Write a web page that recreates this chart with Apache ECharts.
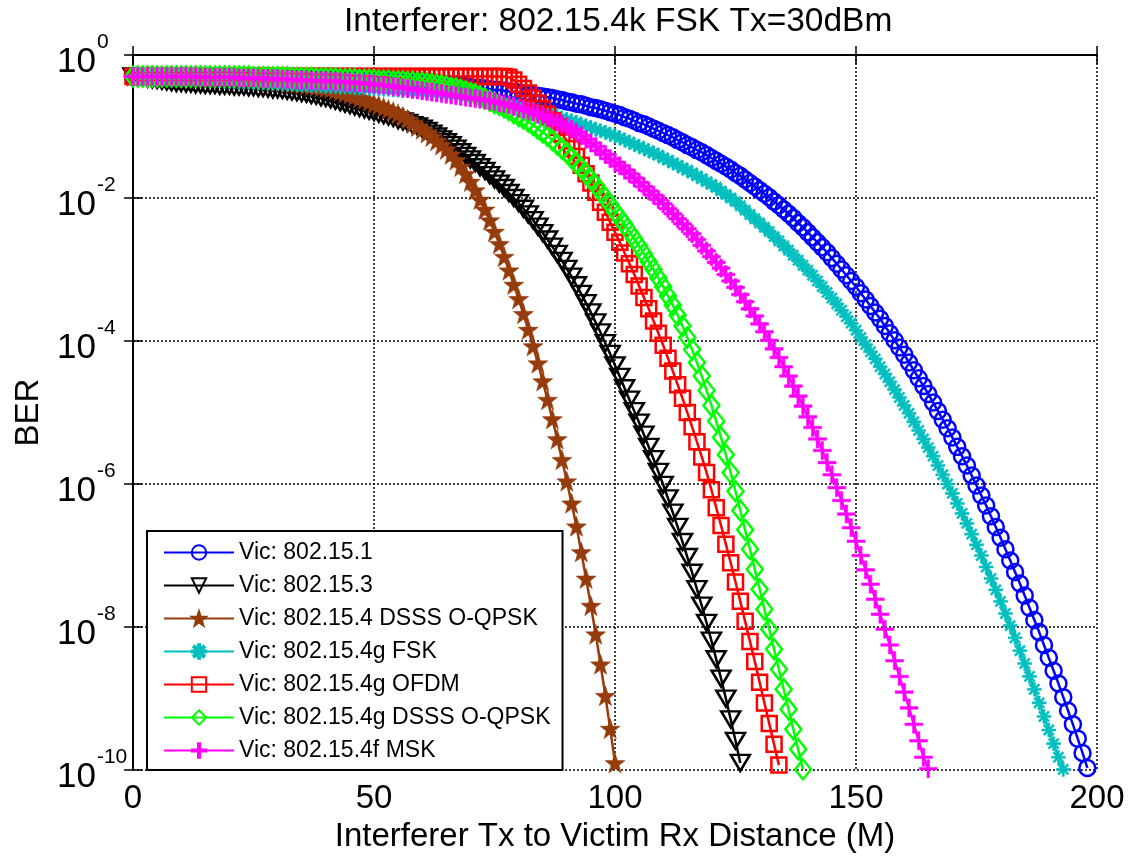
<!DOCTYPE html>
<html>
<head>
<meta charset="utf-8">
<script src="https://cdn.jsdelivr.net/npm/echarts@6.0.0/dist/echarts.min.js"></script>
<style>
  html, body { margin: 0; padding: 0; background: #fff; }
  #chart-container { width: 1135px; height: 858px; }
</style>
</head>
<body>
<div id="chart-container"></div>
<script>
// BER, stored as log10(BER), one value per metre starting at 0 m
var names = ['Vic: 802.15.1', 'Vic: 802.15.3', 'Vic: 802.15.4 DSSS O-QPSK', 'Vic: 802.15.4g FSK',
             'Vic: 802.15.4g OFDM', 'Vic: 802.15.4g DSSS O-QPSK', 'Vic: 802.15.4f MSK'];
var colors = ['#0000ff', '#000000', '#963c0c', '#00bfbf', '#ff0000', '#00ff00', '#ff00ff'];
var xTicks = [0, 50, 100, 150, 200];
var yTickExps = [0, -2, -4, -6, -8, -10];

var ber802151 = [
  -0.30,-0.30,-0.30,-0.30,-0.30,-0.30,-0.30,-0.30,-0.30,-0.30,
  -0.30,-0.30,-0.30,-0.30,-0.30,-0.30,-0.30,-0.30,-0.30,-0.30,
  -0.30,-0.30,-0.30,-0.30,-0.30,-0.31,-0.31,-0.31,-0.31,-0.31,
  -0.31,-0.31,-0.31,-0.31,-0.32,-0.32,-0.32,-0.32,-0.32,-0.33,
  -0.33,-0.33,-0.33,-0.33,-0.34,-0.34,-0.34,-0.35,-0.35,-0.35,
  -0.35,-0.36,-0.36,-0.36,-0.37,-0.37,-0.37,-0.38,-0.38,-0.39,
  -0.39,-0.40,-0.40,-0.41,-0.41,-0.42,-0.42,-0.43,-0.44,-0.44,
  -0.45,-0.46,-0.46,-0.47,-0.48,-0.49,-0.49,-0.50,-0.51,-0.52,
  -0.53,-0.54,-0.55,-0.56,-0.57,-0.58,-0.59,-0.60,-0.62,-0.63,
  -0.65,-0.66,-0.68,-0.69,-0.71,-0.73,-0.74,-0.76,-0.78,-0.80,
  -0.82,-0.84,-0.87,-0.89,-0.92,-0.95,-0.97,-1.00,-1.03,-1.06,
  -1.09,-1.12,-1.15,-1.19,-1.22,-1.26,-1.29,-1.33,-1.36,-1.40,
  -1.44,-1.48,-1.52,-1.56,-1.60,-1.65,-1.69,-1.74,-1.79,-1.84,
  -1.89,-1.94,-1.99,-2.05,-2.10,-2.16,-2.22,-2.28,-2.35,-2.41,
  -2.48,-2.55,-2.62,-2.69,-2.76,-2.84,-2.92,-3.00,-3.08,-3.16,
  -3.24,-3.33,-3.42,-3.51,-3.60,-3.69,-3.79,-3.89,-3.99,-4.09,
  -4.19,-4.30,-4.41,-4.52,-4.63,-4.74,-4.86,-4.98,-5.10,-5.22,
  -5.35,-5.48,-5.61,-5.74,-5.88,-6.02,-6.16,-6.30,-6.45,-6.60,
  -6.75,-6.91,-7.07,-7.23,-7.39,-7.56,-7.73,-7.90,-8.07,-8.25,
  -8.43,-8.61,-8.79,-8.98,-9.17,-9.36,-9.56,-9.76,-9.97
];
var ber802153 = [
  -0.30,-0.31,-0.32,-0.33,-0.34,-0.35,-0.36,-0.37,-0.38,-0.39,
  -0.39,-0.40,-0.40,-0.41,-0.41,-0.42,-0.42,-0.42,-0.43,-0.43,
  -0.43,-0.44,-0.44,-0.44,-0.45,-0.45,-0.46,-0.46,-0.47,-0.48,
  -0.48,-0.49,-0.50,-0.51,-0.52,-0.53,-0.54,-0.56,-0.57,-0.59,
  -0.60,-0.62,-0.64,-0.66,-0.68,-0.70,-0.72,-0.74,-0.76,-0.78,
  -0.80,-0.82,-0.84,-0.86,-0.88,-0.91,-0.93,-0.95,-0.98,-1.00,
  -1.03,-1.06,-1.10,-1.14,-1.18,-1.22,-1.26,-1.31,-1.36,-1.41,
  -1.46,-1.51,-1.57,-1.62,-1.68,-1.74,-1.80,-1.86,-1.93,-2.00,
  -2.07,-2.15,-2.23,-2.31,-2.40,-2.49,-2.58,-2.68,-2.78,-2.88,
  -2.99,-3.10,-3.22,-3.34,-3.47,-3.60,-3.74,-3.88,-4.03,-4.18,
  -4.34,-4.50,-4.66,-4.82,-4.98,-5.14,-5.31,-5.48,-5.65,-5.83,
  -6.01,-6.20,-6.40,-6.60,-6.81,-7.02,-7.24,-7.47,-7.70,-7.94,
  -8.19,-8.45,-8.72,-9.00,-9.29,-9.59,-9.90
];
var ber802154 = [
  -0.30,-0.30,-0.30,-0.30,-0.30,-0.30,-0.30,-0.30,-0.30,-0.30,
  -0.30,-0.30,-0.30,-0.30,-0.30,-0.31,-0.31,-0.31,-0.31,-0.32,
  -0.32,-0.32,-0.33,-0.33,-0.34,-0.34,-0.35,-0.35,-0.36,-0.37,
  -0.37,-0.38,-0.39,-0.40,-0.40,-0.41,-0.42,-0.43,-0.44,-0.45,
  -0.46,-0.47,-0.49,-0.51,-0.53,-0.55,-0.57,-0.60,-0.62,-0.65,
  -0.68,-0.70,-0.73,-0.76,-0.79,-0.82,-0.86,-0.90,-0.95,-1.00,
  -1.04,-1.09,-1.14,-1.20,-1.26,-1.32,-1.39,-1.47,-1.56,-1.66,
  -1.77,-1.89,-2.02,-2.16,-2.31,-2.47,-2.64,-2.82,-3.01,-3.21,
  -3.41,-3.62,-3.84,-4.07,-4.31,-4.56,-4.82,-5.09,-5.37,-5.66,
  -5.96,-6.27,-6.59,-6.95,-7.32,-7.70,-8.10,-8.52,-8.96,-9.42,
  -9.90
];
var ber802154gFsk = [
  -0.30,-0.30,-0.31,-0.31,-0.32,-0.32,-0.32,-0.33,-0.33,-0.33,
  -0.34,-0.34,-0.34,-0.35,-0.35,-0.35,-0.36,-0.36,-0.36,-0.37,
  -0.37,-0.37,-0.38,-0.38,-0.38,-0.39,-0.39,-0.39,-0.40,-0.40,
  -0.40,-0.41,-0.41,-0.41,-0.42,-0.42,-0.42,-0.43,-0.43,-0.43,
  -0.44,-0.44,-0.44,-0.45,-0.45,-0.45,-0.46,-0.46,-0.46,-0.47,
  -0.47,-0.47,-0.48,-0.48,-0.49,-0.49,-0.50,-0.50,-0.51,-0.51,
  -0.52,-0.52,-0.53,-0.53,-0.54,-0.55,-0.55,-0.56,-0.57,-0.58,
  -0.59,-0.60,-0.61,-0.62,-0.63,-0.64,-0.65,-0.67,-0.68,-0.69,
  -0.71,-0.73,-0.74,-0.76,-0.78,-0.80,-0.82,-0.84,-0.86,-0.88,
  -0.90,-0.92,-0.94,-0.97,-0.99,-1.01,-1.04,-1.06,-1.08,-1.11,
  -1.13,-1.16,-1.19,-1.22,-1.25,-1.28,-1.31,-1.34,-1.37,-1.40,
  -1.44,-1.47,-1.51,-1.54,-1.58,-1.61,-1.65,-1.69,-1.73,-1.77,
  -1.81,-1.85,-1.90,-1.95,-2.00,-2.05,-2.11,-2.17,-2.23,-2.29,
  -2.35,-2.41,-2.47,-2.54,-2.60,-2.67,-2.73,-2.80,-2.87,-2.94,
  -3.01,-3.08,-3.16,-3.24,-3.32,-3.40,-3.48,-3.57,-3.66,-3.75,
  -3.85,-3.95,-4.05,-4.15,-4.25,-4.36,-4.46,-4.57,-4.68,-4.79,
  -4.90,-5.01,-5.13,-5.25,-5.37,-5.49,-5.61,-5.74,-5.87,-6.00,
  -6.13,-6.27,-6.41,-6.55,-6.70,-6.85,-7.00,-7.16,-7.32,-7.48,
  -7.64,-7.81,-7.98,-8.15,-8.33,-8.51,-8.69,-8.87,-9.06,-9.25,
  -9.44,-9.63,-9.82,-9.99
];
var ber802154gOfdm = [
  -0.30,-0.30,-0.30,-0.30,-0.30,-0.30,-0.30,-0.30,-0.30,-0.30,
  -0.30,-0.30,-0.30,-0.30,-0.30,-0.30,-0.30,-0.30,-0.30,-0.30,
  -0.30,-0.30,-0.30,-0.30,-0.30,-0.30,-0.30,-0.30,-0.30,-0.30,
  -0.30,-0.30,-0.30,-0.30,-0.30,-0.30,-0.30,-0.30,-0.30,-0.30,
  -0.30,-0.30,-0.30,-0.30,-0.30,-0.30,-0.30,-0.30,-0.30,-0.30,
  -0.30,-0.30,-0.30,-0.30,-0.30,-0.30,-0.30,-0.30,-0.30,-0.30,
  -0.30,-0.30,-0.30,-0.30,-0.30,-0.30,-0.30,-0.30,-0.30,-0.30,
  -0.30,-0.30,-0.30,-0.30,-0.30,-0.30,-0.30,-0.30,-0.31,-0.35,
  -0.41,-0.47,-0.53,-0.60,-0.67,-0.75,-0.83,-0.92,-1.01,-1.10,
  -1.20,-1.31,-1.42,-1.54,-1.66,-1.79,-1.92,-2.06,-2.20,-2.34,
  -2.48,-2.62,-2.77,-2.92,-3.07,-3.23,-3.39,-3.55,-3.72,-3.89,
  -4.06,-4.24,-4.42,-4.61,-4.80,-5.00,-5.20,-5.41,-5.62,-5.84,
  -6.08,-6.33,-6.58,-6.84,-7.10,-7.37,-7.64,-7.92,-8.20,-8.48,
  -8.77,-9.06,-9.35,-9.64,-9.93
];
var ber802154gDsss = [
  -0.30,-0.30,-0.30,-0.30,-0.30,-0.30,-0.30,-0.30,-0.30,-0.30,
  -0.30,-0.30,-0.30,-0.30,-0.30,-0.30,-0.30,-0.30,-0.30,-0.30,
  -0.30,-0.30,-0.30,-0.30,-0.30,-0.31,-0.31,-0.31,-0.31,-0.31,
  -0.31,-0.31,-0.31,-0.32,-0.32,-0.32,-0.32,-0.32,-0.33,-0.33,
  -0.33,-0.33,-0.33,-0.34,-0.34,-0.34,-0.34,-0.35,-0.35,-0.35,
  -0.35,-0.36,-0.36,-0.36,-0.37,-0.37,-0.37,-0.38,-0.38,-0.39,
  -0.39,-0.40,-0.41,-0.42,-0.43,-0.44,-0.46,-0.47,-0.49,-0.51,
  -0.53,-0.55,-0.58,-0.61,-0.64,-0.67,-0.70,-0.73,-0.77,-0.81,
  -0.85,-0.89,-0.93,-0.98,-1.03,-1.08,-1.13,-1.19,-1.25,-1.31,
  -1.37,-1.44,-1.51,-1.58,-1.66,-1.74,-1.82,-1.91,-2.00,-2.09,
  -2.19,-2.28,-2.37,-2.47,-2.57,-2.67,-2.78,-2.89,-3.00,-3.12,
  -3.24,-3.37,-3.50,-3.64,-3.79,-3.95,-4.12,-4.30,-4.49,-4.69,
  -4.90,-5.12,-5.35,-5.59,-5.84,-6.10,-6.37,-6.64,-6.91,-7.19,
  -7.47,-7.75,-8.03,-8.31,-8.59,-8.87,-9.15,-9.43,-9.71,-9.99
];
var ber802154fMsk = [
  -0.30,-0.30,-0.30,-0.30,-0.30,-0.30,-0.30,-0.30,-0.30,-0.30,
  -0.30,-0.30,-0.30,-0.30,-0.31,-0.31,-0.31,-0.31,-0.31,-0.31,
  -0.31,-0.31,-0.32,-0.32,-0.32,-0.32,-0.32,-0.33,-0.33,-0.33,
  -0.33,-0.34,-0.34,-0.34,-0.35,-0.35,-0.35,-0.36,-0.36,-0.36,
  -0.36,-0.36,-0.37,-0.37,-0.38,-0.38,-0.39,-0.39,-0.40,-0.40,
  -0.41,-0.42,-0.42,-0.43,-0.44,-0.45,-0.46,-0.47,-0.48,-0.49,
  -0.50,-0.51,-0.52,-0.53,-0.54,-0.55,-0.56,-0.57,-0.58,-0.59,
  -0.60,-0.61,-0.62,-0.63,-0.64,-0.65,-0.67,-0.68,-0.70,-0.72,
  -0.74,-0.76,-0.78,-0.80,-0.83,-0.85,-0.88,-0.91,-0.94,-0.97,
  -1.00,-1.04,-1.08,-1.13,-1.18,-1.23,-1.28,-1.34,-1.39,-1.45,
  -1.50,-1.55,-1.61,-1.66,-1.72,-1.78,-1.84,-1.90,-1.96,-2.02,
  -2.08,-2.15,-2.22,-2.29,-2.36,-2.43,-2.50,-2.58,-2.66,-2.74,
  -2.82,-2.90,-2.98,-3.07,-3.16,-3.25,-3.35,-3.45,-3.55,-3.65,
  -3.76,-3.87,-3.99,-4.11,-4.23,-4.36,-4.49,-4.63,-4.77,-4.91,
  -5.06,-5.21,-5.37,-5.53,-5.70,-5.87,-6.05,-6.23,-6.42,-6.61,
  -6.80,-7.00,-7.20,-7.40,-7.61,-7.82,-8.03,-8.25,-8.47,-8.69,
  -8.91,-9.13,-9.36,-9.59,-9.82,-9.98
];

var curves = [ber802151, ber802153, ber802154, ber802154gFsk, ber802154gOfdm, ber802154gDsss, ber802154fMsk];

// marker shapes (MATLAB o, v, p, *, s, d, +)
var starPath = 'path://M0,-10L2.35,-3.24L9.51,-3.09L3.8,1.24L5.88,8.09L0,4L-5.88,8.09L-3.8,1.24L-9.51,-3.09L-2.35,-3.24Z';
var asteriskPath = 'path://M-6,-0.9L6,-0.9L6,0.9L-6,0.9Z M-0.9,-6L0.9,-6L0.9,6L-0.9,6Z ' +
  'M-3.6,-4.88L4.88,3.6L3.6,4.88L-4.88,-3.6Z M-4.88,3.6L3.6,-4.88L4.88,-3.6L-3.6,4.88Z';
var plusPath = 'path://M-7,-1L7,-1L7,1L-7,1Z M-1,-7L1,-7L1,7L-1,7Z';
var markers = [
  { symbol: 'circle', size: 16, rotate: 0, hollow: true },
  { symbol: 'triangle', size: [19, 16], rotate: 180, hollow: true },
  { symbol: starPath, size: 20, rotate: 0, hollow: false },
  { symbol: asteriskPath, size: 14, rotate: 0, hollow: false },
  { symbol: 'rect', size: 15, rotate: 0, hollow: true },
  { symbol: 'diamond', size: [16, 20], rotate: 0, hollow: true },
  { symbol: plusPath, size: 18, rotate: 0, hollow: false }
];

var FONT = '"Liberation Sans", Arial, sans-serif';

var dom = document.getElementById('chart-container');
var myChart = echarts.init(dom, null, { renderer: 'canvas' });

var series = curves.map(function (arr, k) {
  var m = markers[k];
  return {
    name: names[k],
    type: 'line',
    data: arr.map(function (e, i) { return [i, e]; }),
    symbol: m.symbol,
    symbolSize: m.size,
    symbolRotate: m.rotate,
    showAllSymbol: true,
    clip: false,
    silent: true,
    lineStyle: { color: colors[k], width: 2.5 },
    itemStyle: m.hollow
      ? { color: 'rgba(0,0,0,0)', borderColor: colors[k], borderWidth: 2.5 }
      : { color: colors[k], borderColor: colors[k], borderWidth: 0.5 },
    emphasis: { disabled: true }
  };
});

var gridDots = { color: '#000', width: 1.5, type: [2, 2] };
var boxTick = { show: true, inside: true, length: 9, lineStyle: { color: '#000', width: 1.5 } };
var boxLine = { show: true, lineStyle: { color: '#000', width: 2 } };

var option = {
  animation: false,
  backgroundColor: '#fff',
  title: {
    text: 'Interferer: 802.15.4k FSK Tx=30dBm',
    left: 339,
    top: 0,
    textStyle: { fontFamily: FONT, fontSize: 33.5, fontWeight: 'normal', color: '#000' }
  },
  legend: {
    data: names,
    orient: 'vertical',
    left: 147,
    top: 531,
    itemWidth: 70,
    itemHeight: 18,
    itemGap: 10,
    padding: [10, 12, 8, 16],
    backgroundColor: '#fff',
    borderColor: '#000',
    borderWidth: 2,
    borderRadius: 0,
    selectedMode: false,
    textStyle: { fontFamily: FONT, fontSize: 23, color: '#000', lineHeight: 22 }
  },
  grid: { left: 133, top: 55, width: 964, height: 716, containLabel: false },
  xAxis: [
    {
      type: 'value', min: 0, max: 200, interval: 50,
      name: 'Interferer Tx to Victim Rx Distance (M)',
      nameLocation: 'middle', nameGap: 40,
      nameTextStyle: { fontFamily: FONT, fontSize: 33, color: '#000' },
      axisLine: boxLine,
      axisTick: boxTick,
      axisLabel: {
        margin: 12, fontFamily: FONT, fontSize: 33, color: '#000',
        formatter: function (v) { return xTicks.indexOf(v) >= 0 ? String(v) : ''; }
      },
      splitLine: { show: true, lineStyle: gridDots }
    },
    {
      type: 'value', min: 0, max: 200, interval: 50, position: 'top',
      axisLine: boxLine, axisTick: boxTick,
      axisLabel: { show: false }, splitLine: { show: false }
    }
  ],
  yAxis: [
    {
      // log10(BER) on a linear axis, labelled as powers of ten
      type: 'value', min: -10, max: 0, interval: 2,
      name: 'BER', nameLocation: 'middle', nameGap: 88, nameRotate: 90,
      nameTextStyle: { fontFamily: FONT, fontSize: 33, color: '#000' },
      axisLine: boxLine,
      axisTick: boxTick,
      axisLabel: {
        margin: 76, align: 'left', color: '#000', padding: [14, 0, 0, 0],
        formatter: function (v) {
          return yTickExps.indexOf(v) >= 0 ? '{b|10}{s|' + v + '}' : '';
        },
        rich: {
          b: { fontFamily: FONT, fontSize: 35, lineHeight: 35, verticalAlign: 'bottom', color: '#000' },
          s: { fontFamily: FONT, fontSize: 21, lineHeight: 21, padding: [0, 0, 27, 1], verticalAlign: 'bottom', color: '#000' }
        }
      },
      splitLine: { show: true, lineStyle: gridDots }
    },
    {
      type: 'value', min: -10, max: 0, interval: 2, position: 'right',
      axisLine: boxLine, axisTick: boxTick,
      axisLabel: { show: false }, splitLine: { show: false }
    }
  ],
  series: series
};

if (option && typeof option === 'object') {
  myChart.setOption(option);
}

window.addEventListener('resize', myChart.resize);
</script>
</body>
</html>
